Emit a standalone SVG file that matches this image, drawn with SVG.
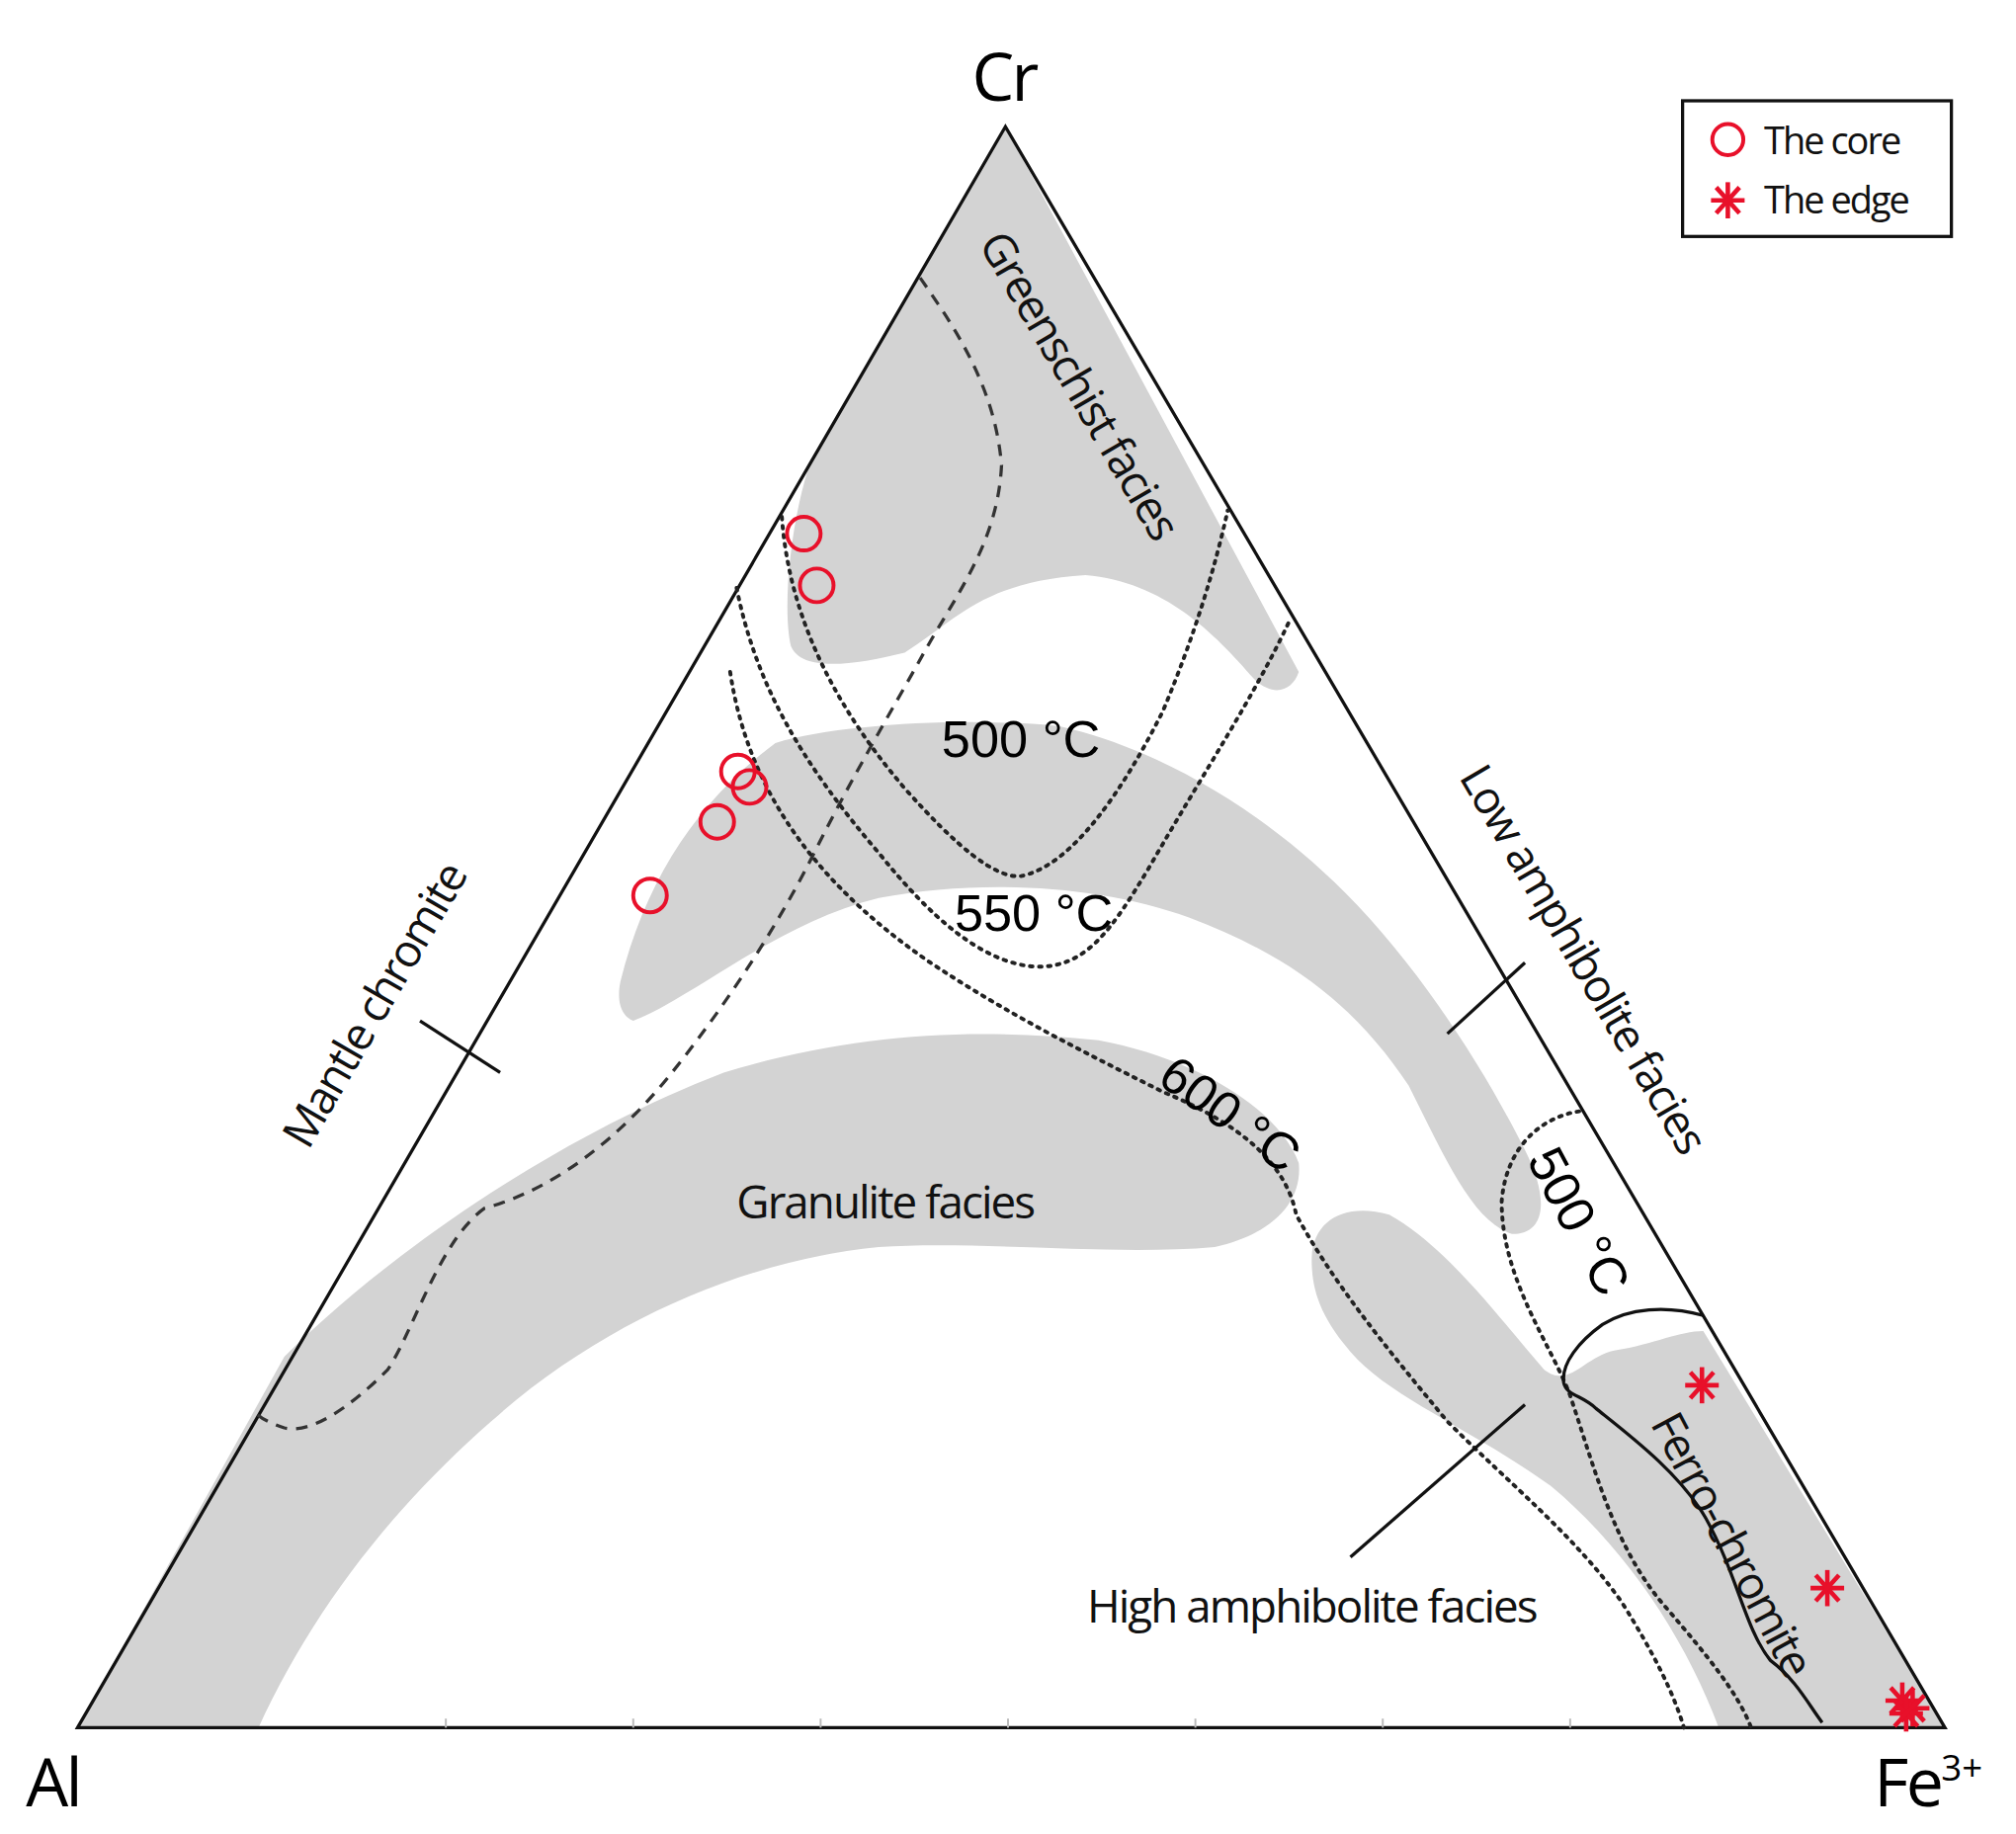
<svg xmlns="http://www.w3.org/2000/svg" width="2040" height="1856" viewBox="0 0 2040 1856">
<style>
.g{fill:#d3d3d3;stroke:none}
.dot{fill:none;stroke:#222;stroke-width:3;stroke-dasharray:2 5;stroke-linecap:round}
.dash{fill:none;stroke:#333;stroke-width:2.5;stroke-dasharray:9 7}
.ln{fill:none;stroke:#111;stroke-width:2.5}
.t{font-family:"Open Sans","Liberation Sans",sans-serif;fill:#111;font-size:35px;text-anchor:middle;letter-spacing:-1.5px}
.a{font-family:"Liberation Sans",Arial,sans-serif;fill:#000;font-size:40px;text-anchor:middle}
.big{font-family:"Open Sans","Liberation Sans",sans-serif;fill:#000;font-size:52px;letter-spacing:-2px}
.lg{font-family:"Open Sans","Liberation Sans",sans-serif;fill:#111;font-size:29px;letter-spacing:-1.5px}
.c{fill:none;stroke:#e8102a;stroke-width:3}
.s{stroke:#e8102a;stroke-width:3.5}
</style>
<rect width="2040" height="1856" fill="#fff"/>
<g transform="scale(1.3077)">
<g id="regions">
<path class="g" d="M778,98 L628,355 C612,400 605,470 612,500 C620,520 660,515 700,505 C740,480 760,450 840,445 C900,450 940,490 970,525 C985,540 1000,535 1005,520 Z"/>
<path class="g" d="M480,760 C500,680 540,620 600,575 C650,560 750,555 820,562 C900,580 980,630 1040,690 C1100,750 1150,830 1180,890 C1200,930 1195,955 1170,955 C1140,945 1120,900 1090,840 C1050,780 1000,740 920,710 C850,685 760,680 680,695 C600,715 540,770 490,790 C478,785 478,770 480,760 Z"/>
<path class="g" d="M60,1337 L220,1050 C300,970 430,880 560,830 C660,800 750,795 850,805 C930,820 990,860 1005,900 C1008,930 985,955 940,965 C860,972 760,960 680,965 C580,975 470,1020 380,1100 C300,1170 240,1250 200,1337 Z"/>
<path class="g" d="M1015,975 C1015,945 1040,930 1075,940 C1120,965 1160,1020 1195,1060 C1215,1075 1225,1050 1250,1045 C1280,1040 1300,1030 1318,1030 L1505,1337 L1330,1337 C1305,1270 1260,1200 1200,1150 C1130,1100 1070,1080 1040,1040 C1020,1015 1015,995 1015,975 Z"/>
</g>
<g id="triangle">
<path class="ln" d="M60,1337 L778,98 L1505,1337 Z"/>
<g stroke="#bbb" stroke-width="1.5"><line x1="345" y1="1330" x2="345" y2="1337"/><line x1="490" y1="1330" x2="490" y2="1337"/><line x1="635" y1="1330" x2="635" y2="1337"/><line x1="780" y1="1330" x2="780" y2="1337"/><line x1="925" y1="1330" x2="925" y2="1337"/><line x1="1070" y1="1330" x2="1070" y2="1337"/><line x1="1215" y1="1330" x2="1215" y2="1337"/></g>
</g>
<g id="connectors">
<path class="dash" d="M712,215 C740,255 770,300 775,360 C772,420 740,460 715,505 C690,550 660,600 630,660 C600,720 560,780 520,830 C480,880 430,920 375,935 C340,960 320,1030 300,1060 C270,1090 240,1110 220,1105 C205,1100 198,1095 195,1090"/>
<path class="dot" d="M605,400 C610,470 640,540 700,610 C740,655 770,680 790,678 C830,670 870,610 900,550 C925,490 940,440 950,395"/>
<path class="dot" d="M570,455 C585,530 620,590 680,660 C720,710 760,745 800,748 C840,750 860,720 890,670 C930,600 970,540 998,480"/>
<path class="dot" d="M565,520 C580,620 640,690 720,745 C780,785 840,815 900,845 C960,870 995,900 1003,940 C1030,990 1070,1040 1120,1100 C1170,1150 1220,1190 1255,1240 C1280,1280 1295,1310 1303,1337" stroke-width="3.5"/>
<path class="dot" d="M1222,860 C1190,865 1165,890 1162,930 C1162,990 1200,1040 1215,1080 C1235,1140 1250,1200 1290,1245 C1320,1280 1345,1310 1355,1337"/>
<path class="ln" d="M1318,1018 C1290,1010 1260,1012 1240,1025 C1222,1038 1208,1055 1210,1070 C1212,1080 1225,1080 1235,1090 C1260,1110 1300,1140 1320,1175 C1345,1220 1350,1260 1370,1285 C1390,1300 1400,1320 1410,1333"/>
<line class="ln" x1="325" y1="790" x2="387" y2="830"/>
<line class="ln" x1="1120" y1="800" x2="1180" y2="745"/>
<line class="ln" x1="1045" y1="1205" x2="1180" y2="1087"/>
</g>
<g id="labels">
<text class="big" x="752" y="78">Cr</text>
<text class="big" x="20" y="1398">Al</text>
<text class="big" x="1450" y="1398">Fe<tspan font-size="28" dy="-20" letter-spacing="0">3+</tspan></text>
<text class="t" transform="translate(835,298) rotate(59.6)" dy="12">Greenschist facies</text>
<text class="t" transform="translate(1225,742) rotate(59.6)" dy="12">Low amphibolite facies</text>
<text class="t" transform="translate(290,778) rotate(-59.9)" dy="12">Mantle chromite</text>
<text class="t" x="685" y="943">Granulite facies</text>
<text class="t" x="1015" y="1256">High amphibolite facies</text>
<text class="t" transform="translate(1340,1195) rotate(62)" dy="12">Ferro-chromite</text>
<text class="a" x="790" y="586">500 °C</text>
<text class="a" x="800" y="720">550 °C</text>
<text class="a" transform="translate(952,862) rotate(36)" dy="14">600 °C</text>
<text class="a" transform="translate(1222,945) rotate(62)" dy="14">500 °C</text>
</g>
<g id="points">
<circle class="c" cx="622" cy="413" r="13"/>
<circle class="c" cx="632" cy="453" r="13"/>
<circle class="c" cx="571" cy="597" r="13"/>
<circle class="c" cx="580" cy="609" r="13"/>
<circle class="c" cx="555" cy="636" r="13"/>
<circle class="c" cx="503" cy="693" r="13"/>
<defs><g id="star"><line class="s" x1="-13" y1="0" x2="13" y2="0"/><line class="s" x1="0" y1="-14" x2="0" y2="14"/><line class="s" x1="-9" y1="-10" x2="9" y2="10"/><line class="s" x1="-9" y1="10" x2="9" y2="-10"/></g></defs>
<use href="#star" x="1317" y="1072"/>
<use href="#star" x="1414" y="1229"/>
<use href="#star" x="1472" y="1316"/>
<use href="#star" x="1480" y="1322"/>
<use href="#star" x="1475" y="1326"/>
</g>
<g id="legend">
<rect x="1302" y="78" width="208" height="105" fill="#fff" stroke="#111" stroke-width="2.5"/>
<circle class="c" cx="1337" cy="108" r="12"/>
<use href="#star" x="1337" y="155"/>
<text class="lg" x="1365" y="119">The core</text>
<text class="lg" x="1365" y="165">The edge</text>
</g>
</g>
</svg>
